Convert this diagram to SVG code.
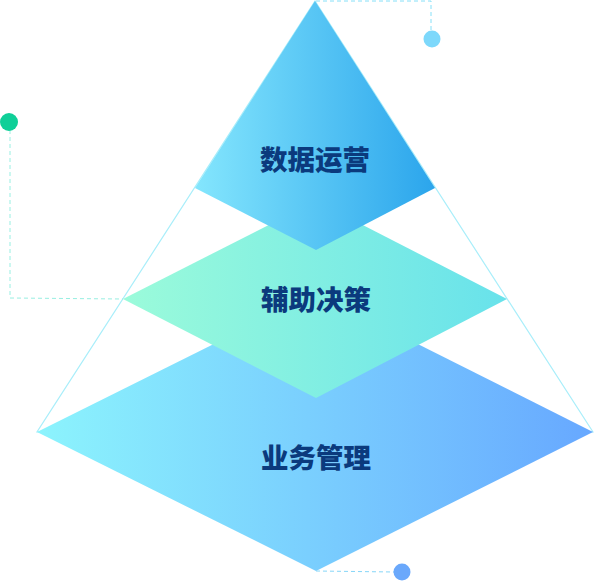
<svg xmlns="http://www.w3.org/2000/svg" width="594" height="581" viewBox="0 0 594 581">
<style>
.lbl{font-family:"Noto Sans CJK SC","Noto Sans",sans-serif;font-weight:900;font-size:27.5px;fill:#0b3a7d;text-anchor:middle;dominant-baseline:central}
.outline{fill:none;stroke:#a9eefa;stroke-width:1.2}
.dash{fill:none;stroke-width:1;stroke-dasharray:4 3}
</style>
<defs>
<linearGradient id="gTop" x1="0" y1="0" x2="1" y2="0"><stop offset="0" stop-color="#84e6fd"/><stop offset="1" stop-color="#2ba5ec"/></linearGradient>
<linearGradient id="gMid" x1="0" y1="0" x2="1" y2="0"><stop offset="0" stop-color="#9bfbda"/><stop offset="1" stop-color="#68e2eb"/></linearGradient>
<linearGradient id="gBot" x1="0" y1="0" x2="1" y2="0"><stop offset="0" stop-color="#8cf4fd"/><stop offset="1" stop-color="#67a8ff"/></linearGradient>
</defs>
<g id="frame">
<polygon class="outline" points="315,1 37,432 593,432"/>
</g>
<g id="layer-bottom">
<polygon points="37,432 316,293 593,432 316,571" fill="url(#gBot)"/>
<text class="lbl" x="316" y="456">业务管理</text>
</g>
<g id="layer-middle">
<polygon points="123,299 316,201 507,299 316,398" fill="url(#gMid)"/>
<text class="lbl" x="316" y="298">辅助决策</text>
</g>
<g id="layer-top">
<polygon points="315,1 435,188 316,250 195,188" fill="url(#gTop)"/>
<text class="lbl" x="315" y="158">数据运营</text>
</g>
<g id="connectors">
<polyline class="dash" stroke="#86e0f8" points="316,1 431,1 431,31"/>
<polyline class="dash" stroke="#98efe2" points="10,130 10,298 123,299"/>
<polyline class="dash" stroke="#86d6f8" points="316,571 394,572"/>
</g>
<g id="dot-top"><circle cx="432" cy="39" r="8.5" fill="#7dd8fb"/></g>
<g id="dot-left"><circle cx="9" cy="122" r="9" fill="#0fcf98"/></g>
<g id="dot-bottom"><circle cx="402" cy="572" r="8.5" fill="#6aa8fb"/></g>
</svg>
